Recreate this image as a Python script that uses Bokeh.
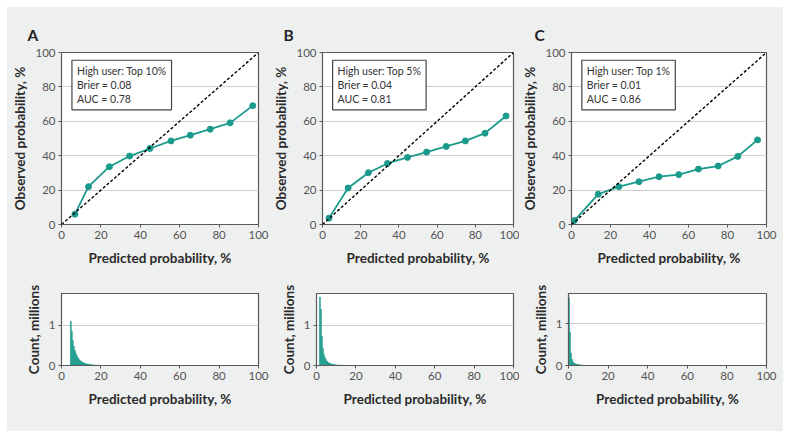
from bokeh.plotting import figure
from bokeh.layouts import column, row
from bokeh.models import Label, Range1d, FixedTicker, Slope
from bokeh.embed import file_html
from bokeh.resources import INLINE

# ---------------- data ----------------
panels = ["A", "B", "C"]
legend_texts = [
    "High user: Top 10%\nBrier = 0.08\nAUC = 0.78",
    "High user: Top 5%\nBrier = 0.04\nAUC = 0.81",
    "High user: Top 1%\nBrier = 0.01\nAUC = 0.86",
]
pred_a = [6.8, 13.7, 24.3, 34.6, 44.9, 55.6, 65.4, 75.5, 85.6, 97.1]
obs_a = [6.0, 22.0, 33.6, 39.8, 44.2, 48.6, 51.9, 55.4, 59.1, 69.1]
pred_b = [3.4, 13.4, 24.0, 34.0, 44.5, 54.5, 64.8, 74.8, 85.1, 96.1]
obs_b = [3.7, 21.2, 30.1, 35.5, 39.0, 42.1, 45.4, 48.6, 53.1, 63.1]
pred_c = [1.5, 13.7, 24.3, 34.6, 44.9, 55.0, 65.1, 75.2, 85.3, 95.4]
obs_c = [2.3, 17.6, 22.0, 24.9, 27.8, 29.0, 32.2, 34.0, 39.6, 49.2]

# histogram: bin left edges (%) and counts (millions), bin width 0.5 %
hist_a_x = [4.5, 5.0, 5.5, 6.0, 6.5, 7.0, 7.5, 8.0, 8.5, 9.0, 9.5, 10.0, 10.5, 11.0,
            11.5, 12.0, 12.5, 13.0, 13.5, 14.0, 14.5, 15.0, 15.5, 16.0, 16.5, 17.0,
            17.5, 18.0, 18.5, 19.0, 19.5]
hist_a_y = [1.10, 0.85, 0.62, 0.48, 0.38, 0.31, 0.25, 0.20, 0.165, 0.135, 0.11, 0.09,
            0.077, 0.065, 0.055, 0.047, 0.040, 0.034, 0.029, 0.025, 0.022, 0.019,
            0.016, 0.014, 0.012, 0.010, 0.009, 0.008, 0.007, 0.006, 0.005]
hist_b_x = [1.5, 2.0, 2.5, 3.0, 3.5, 4.0, 4.5, 5.0, 5.5, 6.0, 6.5, 7.0, 7.5, 8.0, 8.5,
            9.0, 9.5, 10.0, 10.5, 11.0, 11.5, 12.0, 12.5, 13.0, 13.5, 14.0, 14.5]
hist_b_y = [1.70, 1.40, 0.72, 0.42, 0.28, 0.20, 0.15, 0.11, 0.085, 0.067, 0.053, 0.043,
            0.035, 0.029, 0.024, 0.020, 0.017, 0.014, 0.012, 0.010, 0.009, 0.008,
            0.007, 0.006, 0.005, 0.004, 0.003]
hist_c_x = [0.0, 0.5, 1.0, 1.5, 2.0, 2.5, 3.0, 3.5, 4.0, 4.5, 5.0, 5.5, 6.0, 6.5, 7.0, 7.5]
hist_c_y = [1.62, 0.80, 0.30, 0.15, 0.09, 0.06, 0.045, 0.035, 0.028, 0.022, 0.018,
            0.015, 0.012, 0.009, 0.006, 0.004]
hist_top = [1.79, 1.79, 1.72]
hist_ticks = [0, 1]
prob_ticks = [0, 20, 40, 60, 80, 100]

calib = [(pred_a, obs_a), (pred_b, obs_b), (pred_c, obs_c)]
hists = [(hist_a_x, hist_a_y), (hist_b_x, hist_b_y), (hist_c_x, hist_c_y)]

# ---------------- style ----------------
BG = "#eeefef"
TEAL = "#1a9a8b"
FRAME = "#5a5a5a"
GRID = "#cfcfcf"
FONT = "Lato"
LAB = "#2b2b2b"
TICKC = "#555555"

borders = [(54, 12), (46, 6), (49, 17)]
frame_w = [197, 197, 198]
letter_off = [-34, -39, -37]


def style(p, xlabel, ylabel):
    p.background_fill_color = "white"
    p.border_fill_color = BG
    p.outline_line_color = FRAME
    p.outline_line_width = 1.2
    p.xgrid.grid_line_color = None
    p.ygrid.grid_line_color = GRID
    p.ygrid.grid_line_width = 1.2
    for ax in (p.xaxis[0], p.yaxis[0]):
        ax.axis_line_color = FRAME
        ax.major_tick_line_color = FRAME
        ax.major_tick_in = 0
        ax.major_tick_out = 3
        ax.minor_tick_line_color = None
        ax.major_label_text_font = FONT
        ax.major_label_text_font_size = "11.5px"
        ax.major_label_text_color = TICKC
        ax.major_label_standoff = 3
        ax.axis_label_text_font = FONT
        ax.axis_label_text_font_style = "bold"
        ax.axis_label_text_font_size = "13.5px"
        ax.axis_label_text_color = LAB
    p.xaxis.axis_label = xlabel
    p.yaxis.axis_label = ylabel
    p.xaxis.axis_label_standoff = 8
    p.yaxis.axis_label_standoff = 4


tops = []
bots = []
for i in range(3):
    lb, rb = borders[i]
    fw = frame_w[i]
    px, py = calib[i]
    p = figure(width=lb + fw + rb, height=267, output_backend="svg",
               toolbar_location=None, x_range=Range1d(0, 100), y_range=Range1d(0, 100),
               min_border_left=lb, min_border_right=rb, min_border_top=45,
               min_border_bottom=50, title=panels[i])
    p.title.text_font = FONT
    p.title.text_font_style = "bold"
    p.title.text_font_size = "15.5px"
    p.title.text_color = "#222222"
    p.title.align = "left"
    p.title.offset = letter_off[i]
    p.title.standoff = 18
    style(p, "Predicted probability, %", "Observed probability, %")
    p.xaxis.ticker = FixedTicker(ticks=prob_ticks)
    p.yaxis.ticker = FixedTicker(ticks=prob_ticks)
    p.add_layout(Slope(gradient=1, y_intercept=0, line_color="black",
                       line_dash="3 2", line_width=1.4))
    p.line(px, py, line_color=TEAL, line_width=1.8)
    p.scatter(px, py, size=6, fill_color=TEAL, line_color=TEAL)
    p.add_layout(Label(x=5.3, y=95.5, text=legend_texts[i], text_font=FONT,
                       text_font_size="10.5px", text_color="#333333",
                       text_baseline="top", text_line_height=1.15,
                       padding=5, border_line_color="#444444", border_line_width=1.2,
                       background_fill_color="white"))
    tops.append(p)

    hx, hy = hists[i]
    q = figure(width=lb + fw + rb, height=157, output_backend="svg",
               toolbar_location=None, x_range=Range1d(0, 100),
               y_range=Range1d(0, hist_top[i]),
               min_border_left=lb, min_border_right=rb, min_border_top=19,
               min_border_bottom=66)
    style(q, "Predicted probability, %", "Count, millions")
    q.xaxis.ticker = FixedTicker(ticks=prob_ticks)
    q.yaxis.ticker = FixedTicker(ticks=hist_ticks)
    q.quad(left=hx, right=[v + 0.5 for v in hx], bottom=0, top=hy,
           fill_color=TEAL, line_color=TEAL, line_width=0.5)
    bots.append(q)

layout = column(row(*tops, spacing=0), row(*bots, spacing=0), spacing=0,
                styles={"background-color": BG, "margin-left": "7px",
                        "margin-top": "7px"})
open("out.html", "w").write(file_html(layout, INLINE))
